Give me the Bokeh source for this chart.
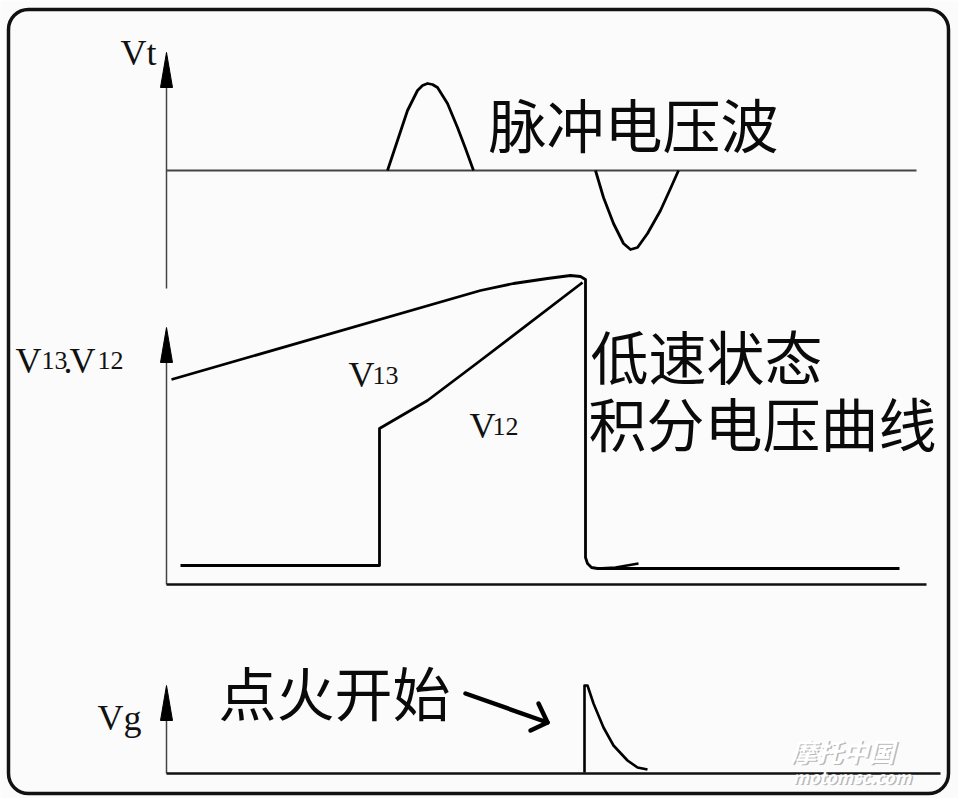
from bokeh.plotting import figure
from bokeh.models import Range1d, BoxAnnotation, ColumnDataSource
from bokeh.core.properties import value
from bokeh.embed import file_html
from bokeh.resources import INLINE

# ---- diagram data (diagram units = picture pixels, y grows downward) ----
# Panel 1: pulse voltage wave Vt
vt_base_x = [166, 916]
vt_base_y = [170, 170]
pulse_pos_x = [387, 397, 407, 417, 422, 427, 432, 437, 447, 457, 465, 473]
pulse_pos_y = [170, 140, 110, 90, 85, 83, 84, 87, 103, 127, 148, 170]
pulse_neg_x = [595, 603, 613, 623, 630, 637, 647, 660, 670, 678]
pulse_neg_y = [170, 197, 223, 243, 249, 247, 233, 210, 188, 170]

# Panel 2: integrated voltage V13 / V12
v13_x = [171, 480, 513, 547, 570, 580, 585, 585, 585, 587, 591, 597, 899]
v13_y = [379, 290, 283, 278, 275, 276, 279, 283, 557, 563, 567, 568, 568]
v13_hook_x = [597, 615, 638]
v13_hook_y = [568, 567, 563]
v12_x = [180, 379, 379, 427, 480, 582]
v12_y = [565, 565, 428, 400, 360, 282]

# Panel 3: ignition voltage Vg
vg_x = [584, 584, 587, 593, 603, 613, 627, 637, 647]
vg_y = [772, 685, 685, 703, 727, 745, 760, 767, 769]
ign_arrow_x = [465, 547]
ign_arrow_y = [693, 722]
ign_head_x = [538, 547, 530]
ign_head_y = [703, 722, 730]

# Axes
axis_x = [166, 166, 166]
axis_top = [80, 355, 715]
axis_bottom = [288, 584, 773]
head_tip = [52, 327, 685]
head_base = [87, 362, 720]
head_half = 6
hline_x0 = [166, 166]
hline_x1 = [926, 940]
hline_y = [584, 773]

# Latin labels
lat_text = ["Vt", "V", "13", ".", "V", "12", "V", "13", "V", "12", "Vg"]
lat_x = [120, 15, 41, 63, 69, 97, 348, 372, 469, 492, 97]
lat_y = [52, 360, 360, 360, 360, 360, 374, 375, 425, 426, 717]
lat_size = ["36px", "36px", "26px", "36px", "36px", "26px",
            "36px", "26px", "36px", "26px", "36px"]

# Chinese labels
cn_text = ["脉冲电压波", "低速状态", "积分电压曲线", "点火开始"]
cn_x = [488, 590, 588, 218]
cn_y = [122, 354, 421, 690]

W, H = 958, 798

# ---- figure ----
p = figure(width=W, height=H, x_range=Range1d(0, W), y_range=Range1d(H, 0),
           output_backend="svg", toolbar_location=None, min_border=0,
           x_axis_location=None, y_axis_location=None)
p.grid.visible = False
p.outline_line_color = None
p.background_fill_color = "#fbfbfb"
p.border_fill_color = "white"

# outer rounded frame
p.add_layout(BoxAnnotation(left=8, right=948, top=9, bottom=793, border_radius=20,
                           line_color="#111111", line_alpha=1.0, line_width=3.5,
                           fill_alpha=0))

# axes
p.segment(x0=axis_x, y0=axis_top, x1=axis_x, y1=axis_bottom,
          line_color="#444444", line_width=1.5)
p.patches(xs=[[x - head_half, x, x + head_half] for x in axis_x],
          ys=[[b, t, b] for t, b in zip(head_tip, head_base)],
          fill_color="black", line_color="black", line_width=1)
p.segment(x0=hline_x0, y0=hline_y, x1=hline_x1, y1=hline_y,
          line_color="#111111", line_width=2.5)
p.line(vt_base_x, vt_base_y, line_color="#444444", line_width=2)

# curves
p.line(pulse_pos_x, pulse_pos_y, line_color="black", line_width=2.8, line_join="round")
p.line(pulse_neg_x, pulse_neg_y, line_color="black", line_width=2.8, line_join="round")
p.line(v13_x, v13_y, line_color="black", line_width=2.8, line_join="round")
p.line(v13_hook_x, v13_hook_y, line_color="black", line_width=2.5, line_join="round")
p.line(v12_x, v12_y, line_color="black", line_width=2.8, line_join="round")
p.line(vg_x, vg_y, line_color="black", line_width=2.6, line_join="round")
p.line(ign_arrow_x, ign_arrow_y, line_color="black", line_width=4.5, line_cap="round")
p.line(ign_head_x, ign_head_y, line_color="black", line_width=4.5,
       line_cap="round", line_join="round")

# labels
lat_src = ColumnDataSource(dict(x=lat_x, y=lat_y, t=lat_text, s=lat_size))
p.text(x="x", y="y", text="t", source=lat_src, text_font=value("Liberation Serif"),
       text_font_size="s", text_align="left", text_baseline="alphabetic",
       text_color="#111111")
cn_src = ColumnDataSource(dict(x=cn_x, y=cn_y, t=cn_text))
p.text(x="x", y="y", text="t", source=cn_src, text_font=value("Noto Sans CJK SC"),
       text_font_size="58px", text_align="left", text_baseline="middle",
       text_color="#0a0a0a")

# watermark
wm_text = ["摩托中国", "motomsc.com"]
wm_x = [790, 792]
wm_y = [768, 788]
wm_size = ["26px", "17px"]
p.text(x=[x + 1.5 for x in wm_x], y=[y + 1.5 for y in wm_y], text=wm_text,
       text_font=value("Noto Sans CJK SC"), text_font_size=wm_size,
       text_font_style="bold italic", text_color="#9a9a9a", text_alpha=0.7)
p.text(x=wm_x, y=wm_y, text=wm_text, text_font=value("Noto Sans CJK SC"),
       text_font_size=wm_size, text_font_style="bold italic", text_color="white")

open("out.html", "w").write(file_html(p, INLINE))
